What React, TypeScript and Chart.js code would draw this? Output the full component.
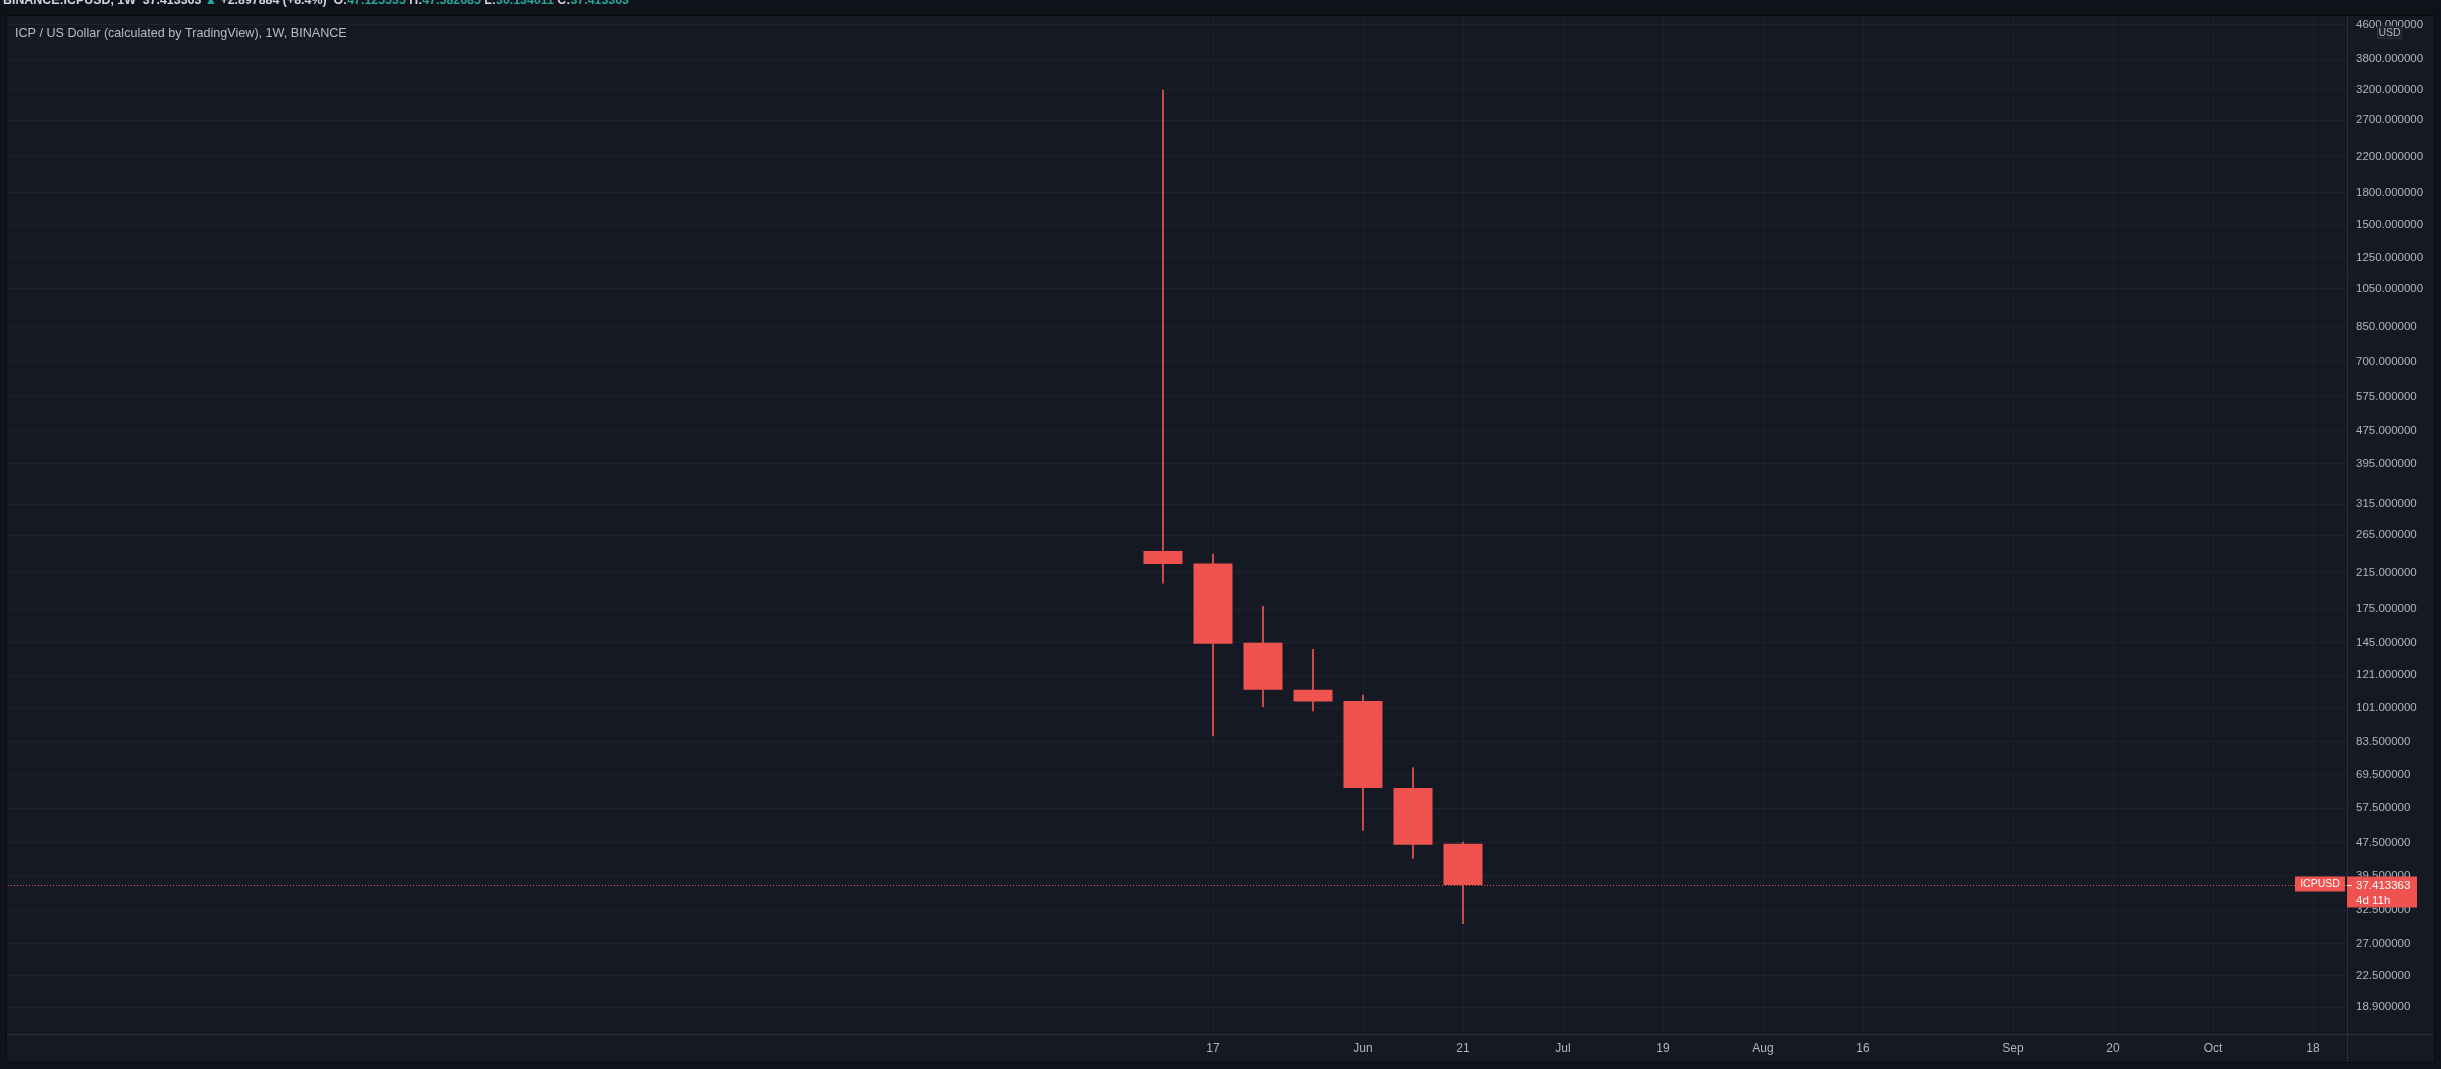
import React, { useEffect, useRef } from 'react';
import { Chart, registerables } from 'chart.js';

Chart.register(...registerables);

// Weekly candles, week index counted from the week of 2021-05-10
const weekIndex = [0, 1, 2, 3, 4, 5, 6];
const openValues = [242.3, 226.2, 145.0, 111.6, 104.8, 64.4, 47.125535];
const highValues = [3193, 238.3, 178.0, 139.8, 108.2, 72.2, 47.582685];
const lowValues = [202.4, 86.2, 101.5, 99.1, 50.8, 43.4, 30.134011];
const closeValues = [225.4, 144.3, 111.6, 104.4, 64.4, 46.9, 37.413363];

const priceTicks = [
  4600, 3800, 3200, 2700, 2200, 1800, 1500, 1250, 1050, 850, 700, 575, 475, 395, 315, 265,
  215, 175, 145, 121, 101, 83.5, 69.5, 57.5, 47.5, 39.5, 32.5, 27, 22.5, 18.9,
];
const timeTickIndex = [1, 4, 6, 8, 10, 12, 14, 17, 19, 21, 23];
const timeTickLabels = ['17', 'Jun', '21', 'Jul', '19', 'Aug', '16', 'Sep', '20', 'Oct', '18'];

const lastPrice = 37.413363;
const countdown = '4d 11h';
const symbolTag = 'ICPUSD';
const legendText = 'ICP / US Dollar (calculated by TradingView), 1W, BINANCE';
const headerParts: [string, string][] = [
  ['BINANCE:ICPUSD, 1W  37.413363 ', 'w'],
  ['▲', 't'],
  [' +2.897884 (+8.4%)  ', 'w'],
  ['O:', 'w'],
  ['47.125535 ', 't'],
  ['H:', 'w'],
  ['47.582685 ', 't'],
  ['L:', 'w'],
  ['30.134011 ', 't'],
  ['C:', 'w'],
  ['37.413363', 't'],
];

const W = 2441;
const H = 1069;
const OUTER = '#0f1219';
const PANE = '#151924';
const GRID = '#1f2330';
const SEP = '#2a2e39';
const TEXT = '#b2b5be';
const RED = '#ef5350';
const TEAL = '#26a69a';
const FONT = '"Liberation Sans", Arial, sans-serif';

const framePlugin = {
  id: 'tvFrame',
  beforeDraw(chart: any) {
    const ctx = chart.ctx;
    const ca = chart.chartArea;
    const ys = chart.scales.y;
    const xs = chart.scales.x;
    ctx.save();
    ctx.fillStyle = OUTER;
    ctx.fillRect(0, 0, W, H);
    ctx.fillStyle = PANE;
    ctx.fillRect(ca.left - 1, ca.top, ys.right - ca.left + 1, xs.bottom - ca.top);
    ctx.restore();
  },
  afterDraw(chart: any) {
    const ctx = chart.ctx;
    const ca = chart.chartArea;
    const ys = chart.scales.y;
    const xs = chart.scales.x;
    ctx.save();
    // separators
    ctx.strokeStyle = SEP;
    ctx.lineWidth = 1;
    ctx.beginPath();
    ctx.moveTo(ca.right + 0.5, ca.top);
    ctx.lineTo(ca.right + 0.5, xs.bottom);
    ctx.moveTo(ca.left - 1, ca.bottom + 0.5);
    ctx.lineTo(ys.right, ca.bottom + 0.5);
    ctx.stroke();
    // pane border
    ctx.strokeStyle = '#090b10';
    ctx.strokeRect(ca.left - 1.5, ca.top - 0.5, ys.right - ca.left + 2, xs.bottom - ca.top + 1);

    // last price dotted line
    const py = Math.round(ys.getPixelForValue(lastPrice)) + 0.5;
    ctx.strokeStyle = RED;
    ctx.setLineDash([1, 2]);
    ctx.beginPath();
    ctx.moveTo(ca.left, py);
    ctx.lineTo(ca.right, py);
    ctx.stroke();
    ctx.setLineDash([]);

    // symbol tag
    ctx.fillStyle = RED;
    ctx.fillRect(ca.right - 52, py - 9, 50, 15);
    ctx.fillStyle = '#ffffff';
    ctx.font = `10.5px ${FONT}`;
    ctx.textAlign = 'center';
    ctx.textBaseline = 'middle';
    ctx.fillText(symbolTag, ca.right - 27, py - 1);

    // price box
    ctx.fillStyle = RED;
    ctx.fillRect(ca.right, py - 9, 70, 31);
    ctx.strokeStyle = '#ffffff';
    ctx.beginPath();
    ctx.moveTo(ca.right, py);
    ctx.lineTo(ca.right + 5, py);
    ctx.stroke();
    ctx.fillStyle = '#ffffff';
    ctx.textAlign = 'left';
    ctx.font = `11.5px ${FONT}`;
    ctx.fillText(lastPrice.toFixed(6), ca.right + 9, py);
    ctx.fillText(countdown, ca.right + 9, py + 15);

    // USD box
    ctx.fillStyle = '#1c202b';
    ctx.fillRect(ca.right + 30, ca.top + 10, 25, 13);
    ctx.strokeStyle = '#2e323e';
    ctx.strokeRect(ca.right + 30.5, ca.top + 10.5, 24, 12);
    ctx.fillStyle = TEXT;
    ctx.font = `10.5px ${FONT}`;
    ctx.textAlign = 'center';
    ctx.fillText('USD', ca.right + 42.5, ca.top + 17);

    // legend
    ctx.textAlign = 'left';
    ctx.fillStyle = '#b8bcc6';
    ctx.font = `12.6px ${FONT}`;
    ctx.fillText(legendText, ca.left + 7, ca.top + 18);

    // header (clipped at the top of the page)
    ctx.font = `bold 12.4px ${FONT}`;
    ctx.textBaseline = 'alphabetic';
    let x = 3;
    for (const [t, c] of headerParts) {
      ctx.fillStyle = c === 't' ? TEAL : '#d1d4dc';
      ctx.fillText(t, x, 4);
      x += ctx.measureText(t).width;
    }
    ctx.restore();
  },
};

export default function App() {
  const ref = useRef<HTMLCanvasElement | null>(null);

  useEffect(() => {
    document.body.style.margin = '0';
    document.body.style.background = OUTER;
    const canvas = ref.current;
    if (!canvas) return;

    const bodies = weekIndex.map((w, i) => ({ x: w, y: [openValues[i], closeValues[i]] }));
    const wicks = weekIndex.map((w, i) => ({ x: w, y: [lowValues[i], highValues[i]] }));

    const chart = new Chart(canvas, {
      type: 'bar',
      data: {
        datasets: [
          {
            label: 'wick',
            data: wicks as any,
            backgroundColor: RED,
            borderWidth: 0,
            barThickness: 1,
            grouped: false,
          } as any,
          {
            label: 'body',
            data: bodies as any,
            backgroundColor: RED,
            borderWidth: 0,
            barPercentage: 0.78,
            categoryPercentage: 1,
            grouped: false,
          } as any,
        ],
      },
      options: {
        responsive: false,
        animation: false,
        devicePixelRatio: 1,
        layout: { padding: { left: 8, top: 13, right: 7, bottom: 7 } },
        plugins: { legend: { display: false }, tooltip: { enabled: false } },
        scales: {
          x: {
            type: 'linear',
            position: 'bottom',
            min: -23.1,
            max: 23.68,
            offset: false,
            afterFit: (s: any) => {
              s.height = 28;
            },
            afterBuildTicks: (s: any) => {
              s.ticks = timeTickIndex.map((v) => ({ value: v }));
            },
            grid: { color: '#1c202b', drawTicks: false, offset: false },
            border: { display: false },
            ticks: {
              autoSkip: false,
              maxRotation: 0,
              padding: 7,
              color: TEXT,
              font: { family: FONT, size: 12 },
              callback: (v: any) => {
                const i = timeTickIndex.indexOf(Number(v));
                return i >= 0 ? timeTickLabels[i] : '';
              },
            },
          },
          y: {
            type: 'logarithmic',
            position: 'right',
            min: 16.26,
            max: 4837,
            afterFit: (s: any) => {
              s.width = 87;
            },
            afterBuildTicks: (s: any) => {
              s.ticks = priceTicks.map((v) => ({ value: v }));
            },
            grid: { color: GRID, drawTicks: false },
            border: { display: false },
            ticks: {
              autoSkip: false,
              padding: 9,
              color: TEXT,
              font: { family: FONT, size: 11.5 },
              callback: (v: any) => Number(v).toFixed(6),
            },
          },
        },
      },
      plugins: [framePlugin],
    });

    return () => chart.destroy();
  }, []);

  return (
    <div style={{ width: W, height: H, position: 'relative', overflow: 'hidden' }}>
      <canvas ref={ref} width={W} height={H} style={{ width: W, height: H, display: 'block' }} />
    </div>
  );
}
